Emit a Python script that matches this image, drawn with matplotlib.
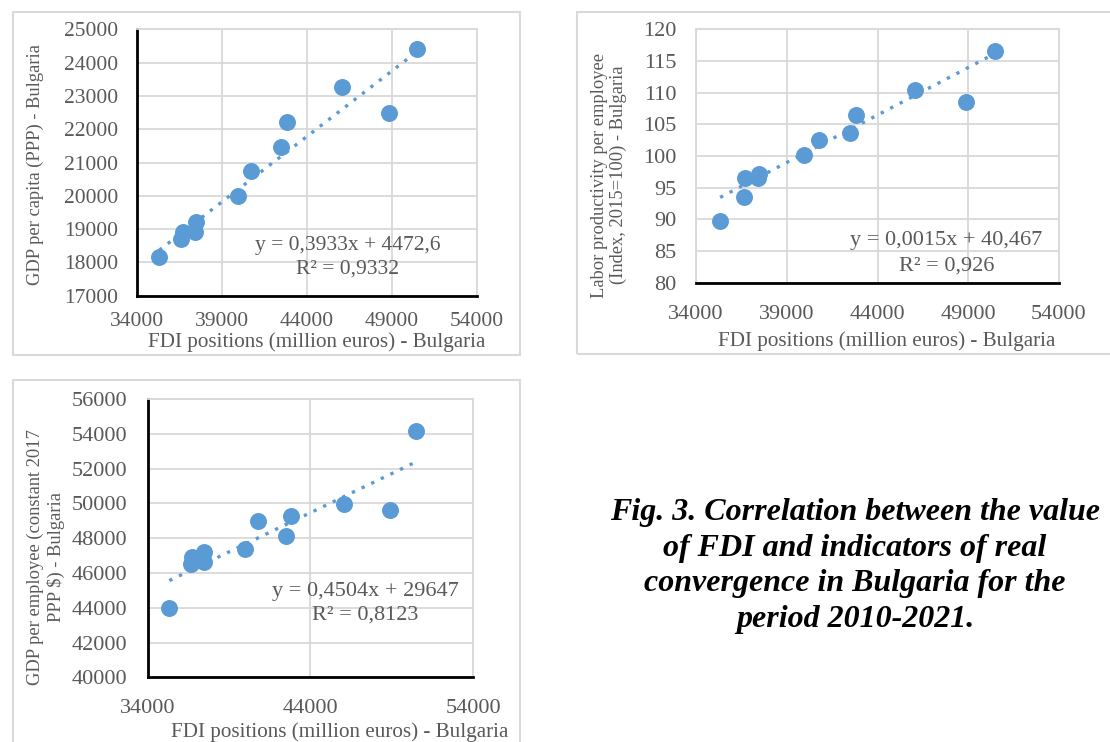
import matplotlib
matplotlib.use("Agg")
import matplotlib.pyplot as plt
import numpy as np
from matplotlib.patches import Rectangle

# DATA
fdi = [35330, 36630, 36720, 37430, 37470, 39950, 40750, 42500, 42830, 46050, 48870, 50460]
gdp_capita = [18170, 18690, 18920, 18920, 19200, 20000, 20740, 21480, 22210, 23270, 22480, 24400]
labor_prod = [89.7, 93.6, 96.6, 96.6, 97.2, 100.1, 102.6, 103.6, 106.5, 110.4, 108.6, 116.6]
gdp_employee = [44000, 46520, 46940, 46610, 47220, 47380, 48990, 48100, 49290, 49980, 49620, 54180]

trend1 = (0.3933, 4472.6)
trend2 = (0.0015, 40.467)
trend3 = (0.4504, 29647)
eq1 = ["y = 0,3933x + 4472,6", "R² = 0,9332"]
eq2 = ["y = 0,0015x + 40,467", "R² = 0,926"]
eq3 = ["y = 0,4504x + 29647", "R² = 0,8123"]

xlabel = "FDI positions (million euros) - Bulgaria"
ylabel1 = "GDP per capita (PPP) - Bulgaria"
ylabel2 = "Labor productivity per employee\n(Index, 2015=100) - Bulgaria"
ylabel3 = "GDP per employee (constant 2017\nPPP $) - Bulgaria"
caption = ("Fig. 3. Correlation between the value\nof FDI and indicators of real\n"
           "convergence in Bulgaria for the\nperiod 2010-2021.")

W, H = 1110, 742
BLUE = "#5b9bd5"
GRID = "#d9d9d9"
TXT = "#595959"
plt.rcParams["font.family"] = ["Liberation Serif", "DejaVu Serif"]

fig = plt.figure(figsize=(W / 100, H / 100), dpi=100)


def rect(l, t, r, b):
    return [l / W, 1 - b / H, (r - l) / W, (b - t) / H]


def frame(l, t, r, b):
    fig.patches.append(Rectangle((l / W, 1 - b / H), (r - l) / W, (b - t) / H,
                                 transform=fig.transFigure, fill=False,
                                 edgecolor=GRID, lw=1.5))


def panel(box, y, trend, eq, xlim, xticks, ylim, yticks, tfs, eqpos,
          xpad, ypad, left_black=True):
    ax = fig.add_axes(rect(*box))
    ax.set_xlim(*xlim)
    ax.set_ylim(*ylim)
    ax.set_xticks(xticks)
    ax.set_yticks(yticks)
    ax.grid(True, color=GRID, lw=1.3)
    ax.set_axisbelow(True)
    for s in ["top", "right"]:
        ax.spines[s].set_color(GRID)
        ax.spines[s].set_linewidth(1.3)
    ax.spines["bottom"].set_color("black")
    ax.spines["bottom"].set_linewidth(2)
    if left_black:
        ax.spines["left"].set_color("black")
        ax.spines["left"].set_linewidth(2)
    else:
        ax.spines["left"].set_color(GRID)
        ax.spines["left"].set_linewidth(1.3)
    ax.tick_params(length=0, labelsize=tfs, labelcolor=TXT)
    ax.tick_params(axis="x", pad=xpad)
    ax.tick_params(axis="y", pad=ypad)
    xs = np.array([min(fdi), max(fdi)])
    ax.plot(xs, trend[0] * xs + trend[1], ls=(0, (1, 2.2)), color=BLUE, lw=2.4)
    ax.scatter(fdi, y, s=125, color=BLUE, zorder=3)
    ax.text(eqpos[0], eqpos[1], eq[0], transform=ax.transAxes, ha="center",
            va="center", fontsize=tfs, color=TXT)
    ax.text(eqpos[0], eqpos[2], eq[1], transform=ax.transAxes, ha="center",
            va="center", fontsize=tfs, color=TXT)
    return ax


# panel frames
frame(13, 12, 520, 355)
frame(577, 12, 1112, 354)
frame(13, 380, 520, 745)

panel((136.7, 29.3, 476.7, 295.7), gdp_capita, trend1, eq1,
      (34000, 54000), range(34000, 54001, 5000), (17000, 25000),
      range(17000, 25001, 1000), 15.5, (0.62, 0.19, 0.10), 11.5, 13.5)
panel((696, 29.3, 1059, 282.7), labor_prod, trend2, eq2,
      (34000, 54000), range(34000, 54001, 5000), (80, 120),
      range(80, 121, 5), 16, (0.69, 0.168, 0.066), 16, 14, left_black=False)
panel((147.7, 399, 473.3, 677.3), gdp_employee, trend3, eq3,
      (34000, 54000), range(34000, 54001, 10000), (40000, 56000),
      range(40000, 56001, 2000), 16, (0.667, 0.31, 0.224), 15.5, 14.5)

# axis titles
for cx, cy in [(317, 342), (887, 341), (340, 732)]:
    fig.text(cx / W, 1 - cy / H, xlabel, ha="center", va="center",
             fontsize=15.2, color=TXT)
fig.text(35 / W, 1 - 165 / H, ylabel1, ha="center", va="center", rotation=90,
         fontsize=13.3, color=TXT)
fig.text(609 / W, 1 - 175 / H, ylabel2, ha="center", va="center", rotation=90,
         fontsize=13.3, color=TXT, linespacing=1.2, multialignment="center")
fig.text(46 / W, 1 - 557 / H, ylabel3, ha="center", va="center", rotation=90,
         fontsize=13.3, color=TXT, linespacing=1.2, multialignment="center")

fig.text(855 / W, 1 - 566 / H, caption, ha="center", va="center", fontsize=23,
         fontweight="bold", fontstyle="italic", linespacing=1.31, color="black")

fig.savefig("out.png", dpi=100)
